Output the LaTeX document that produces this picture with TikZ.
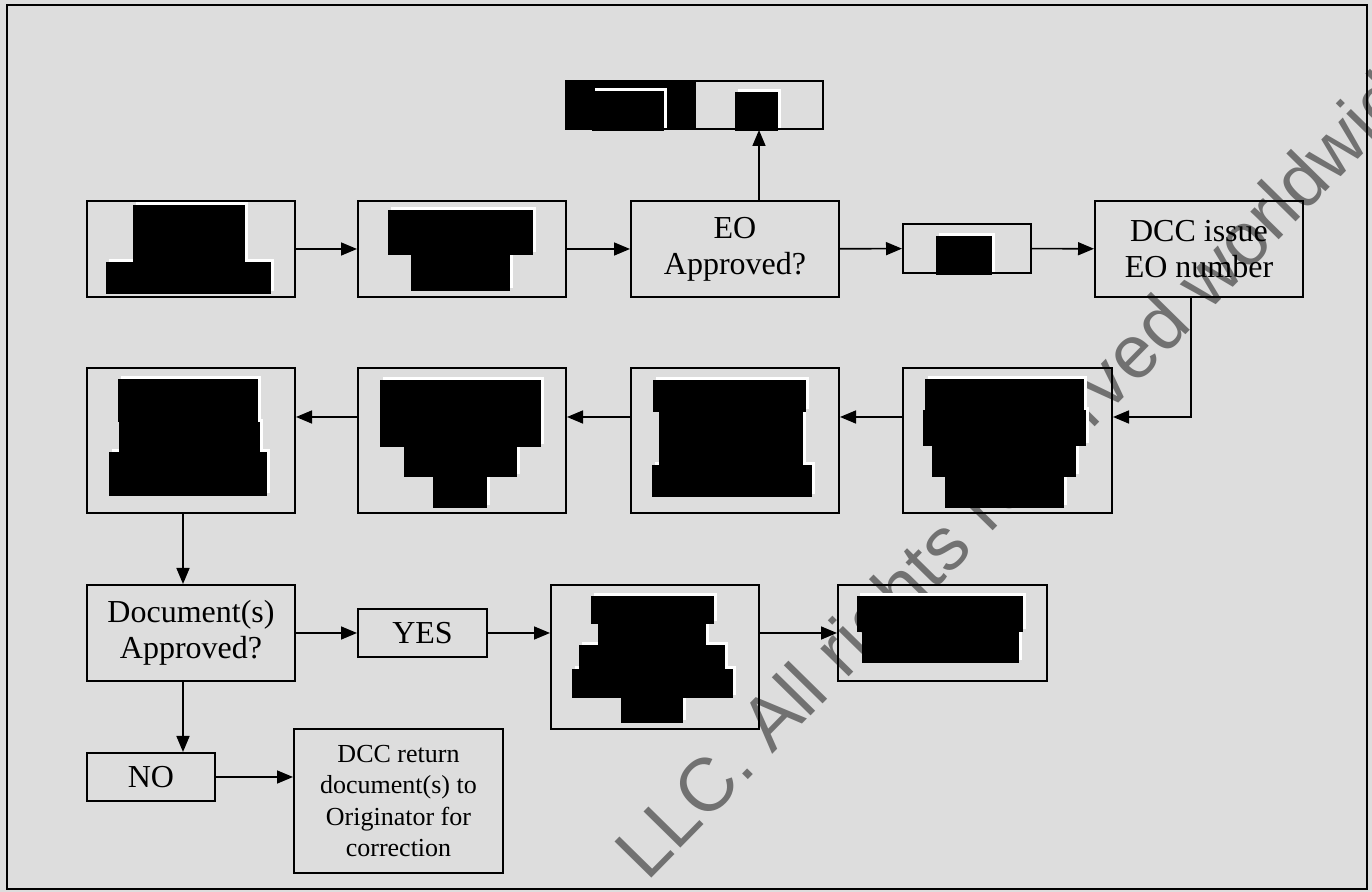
\documentclass[tikz,border=0pt]{standalone}
\usepackage{fontspec}
\setmainfont{Liberation Serif}
\newfontfamily\wmfont{Liberation Sans}
\usetikzlibrary{arrows.meta,calc}
\definecolor{paper}{HTML}{DDDDDD}
\definecolor{wmgrey}{HTML}{717171}
% blacked-out text: a white edge offset up-right, then the black bars
\newcommand\blot[1]{%
  \foreach \a/\b/\c/\d in {#1} {\fill[white] (\a+2.5,\b-2.5) rectangle (\c+2.5,\d-2.5);}%
  \foreach \a/\b/\c/\d in {#1} {\fill[black] (\a,\b) rectangle (\c,\d);}%
}
\begin{document}
\begin{tikzpicture}[x=0.5pt,y=-0.5pt,
  box/.style={draw, line width=1pt, inner sep=0pt, align=center,
    font=\fontsize{16}{18}\selectfont},
  link/.style={line width=0.8pt, -{Triangle[length=8pt,width=6.5pt]}}]
\useasboundingbox (0,0) rectangle (1372,892);
\clip (0,0) rectangle (1372,892);
\fill[paper] (0,0) rectangle (1372,892);

% copyright watermark, lying under the chart
\node[rotate=45.5, anchor=base west, inner sep=0pt, text=wmgrey,
  font=\wmfont\fontsize{37.5}{37.5}\selectfont] (wm) at (647,883)
  {LLC. All rights reserved worldwide};

\draw[line width=1pt] (7,5) rectangle (1367,889);

% first row
\node[box, minimum width=104pt, minimum height=48pt] (A) at (191,249) {};
\node[box, minimum width=104pt, minimum height=48pt] (B) at (462,249) {};
\node[box, minimum width=104pt, minimum height=48pt] (C) at (735,249) {EO\\Approved?};
\node[box, minimum width=64pt, minimum height=24.5pt] (D) at (967,248.5) {};
\node[box, minimum width=104pt, minimum height=48pt] (E) at (1199,249) {DCC issue\\EO number};
\node[box, minimum width=128.5pt, minimum height=24pt] (F) at (694.5,105) {};

% second row
\node[box, minimum width=104.5pt, minimum height=72.5pt] (G) at (1007.5,440.5) {};
\node[box, minimum width=104pt, minimum height=72.5pt] (H) at (735,440.5) {};
\node[box, minimum width=104pt, minimum height=72.5pt] (I) at (462,440.5) {};
\node[box, minimum width=104pt, minimum height=72.5pt] (J) at (191,440.5) {};

% third row
\node[box, minimum width=104pt, minimum height=48pt] (K) at (191,633) {Document(s)\\Approved?};
\node[box, minimum width=64.5pt, minimum height=24pt] (Y) at (422.5,633) {YES};
\node[box, minimum width=104pt, minimum height=72pt] (L) at (655,657) {};
\node[box, minimum width=104.5pt, minimum height=48pt] (M) at (942.5,633) {};

% fourth row
\node[box, minimum width=64pt, minimum height=24pt] (N) at (151,777) {NO};
\node[box, minimum width=104.5pt, minimum height=72pt,
  font=\fontsize{13}{15.8}\selectfont] (P) at (398.5,801)
  {DCC return\\document(s) to\\Originator for\\correction};

% guide coordinates for offset connectors
\coordinate (upx) at (759,0);
\coordinate (dnx) at (1191,0);
\coordinate (row2) at (0,417);
\coordinate (colx) at (183,0);

\draw[link] (A) -- (B);
\draw[link] (B) -- (C);
\draw[link] (C) -- (D);
\draw[link] (D) -- (E);
\draw[link] (C.north -| upx) -- (F.south -| upx);
\draw[link] (E.south -| dnx) |- (G.east |- row2);
\draw[link] (G.west |- row2) -- (H.east |- row2);
\draw[link] (H.west |- row2) -- (I.east |- row2);
\draw[link] (I.west |- row2) -- (J.east |- row2);
\draw[link] (J.south -| colx) -- (K.north -| colx);
\draw[link] (K.east) -- (Y.west);
\draw[link] (Y.east) -- (L.west |- Y.east);
\draw[link] (L.east |- M.west) -- (M.west);
\draw[link] (K.south -| colx) -- (N.north -| colx);
\draw[link] (N.east) -- (P.west |- N.east);

% blacked-out passages
\blot{133/205/245/262, 106/262/271/294}
\blot{388/210/533/255, 411/255/510/291}
\blot{936/236/992/275}
\fill[black] (566,80) rectangle (696,130);
\blot{592/91/664/131}
\blot{735/92/778/131}
\blot{925/379/1084/410, 923/410/1086/446, 932/446/1076/477, 945/477/1064/508}
\blot{653/380/806/412, 659/412/803/465, 652/465/812/497}
\blot{380/380/541/447, 404/447/517/477, 433/477/487/508}
\blot{118/379/258/422, 119/422/260/452, 109/452/267/496}
\blot{591/596/714/624, 598/624/706/645, 579/645/725/669, 572/669/733/698, 621/698/683/723}
\blot{857/596/1023/632, 862/632/1019/663}
\end{tikzpicture}
\end{document}
